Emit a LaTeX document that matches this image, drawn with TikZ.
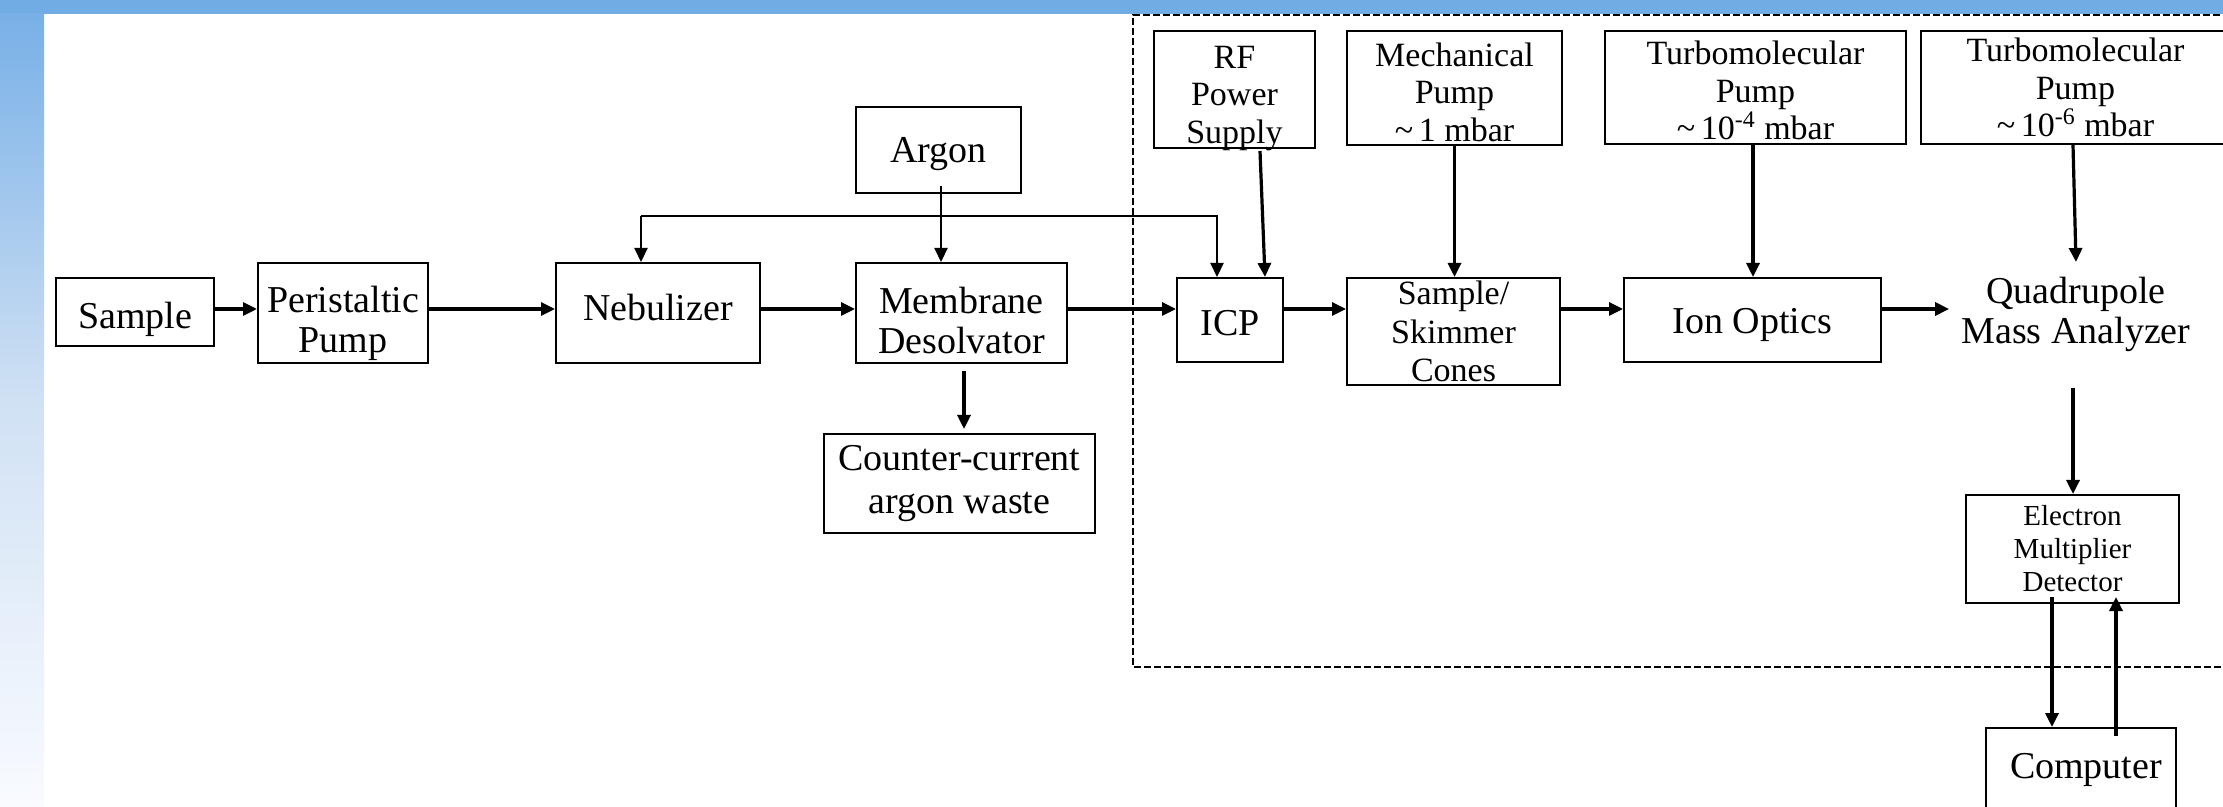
\documentclass[tikz,border=0pt]{standalone}
\usepackage{fontspec}
\setmainfont{Liberation Serif}
\usetikzlibrary{arrows.meta,calc}
\definecolor{barblue}{HTML}{72ACE4}
\definecolor{stripA}{HTML}{78B0E7}
\definecolor{stripB}{HTML}{D0E1F4}
\definecolor{stripC}{HTML}{F9FBFF}
\begin{document}
\begin{tikzpicture}[x=0.5pt,y=-0.5pt,
  box/.style={draw, line width=1pt, inner sep=0pt},
  mainf/.style={font=\fontsize{19}{20}\selectfont, align=center, inner sep=0pt},
  topf/.style={font=\fontsize{17}{18.75}\selectfont, align=center, inner sep=0pt},
  skimf/.style={font=\fontsize{17}{19.25}\selectfont, align=center, inner sep=0pt},
  wastef/.style={font=\fontsize{19}{21.5}\selectfont, align=center, inner sep=0pt},
  smallf/.style={font=\fontsize{14.5}{16.5}\selectfont, align=center, inner sep=0pt},
  arr/.style={line width=1.6pt, -{Triangle[length=7pt,width=6.5pt]}},
  thinarr/.style={line width=1.1pt, -{Triangle[length=7pt,width=6.5pt]}},
  dashedbox/.style={line width=1.1pt, dash pattern=on 3.5pt off 1.5pt}]
\clip (0,0) rectangle (2223,807);
\fill[white] (0,0) rectangle (2223,807);
\fill[barblue] (0,0) rectangle (2223,14);
\shade[top color=stripA, bottom color=stripB] (0,14) rectangle (44,400);
\shade[top color=stripB, bottom color=stripC] (0,400) rectangle (44,807);

% nodes (box with its text as a centred label)
\node[box,minimum width=79pt,minimum height=34pt,
  label={[mainf,yshift=-3.5pt]center:Sample}] (Sample) at (135,312) {};
\node[box,minimum width=85pt,minimum height=50pt,
  label={[mainf,yshift=-5pt]center:{Peristaltic\\Pump}}] (Pump) at (343,313) {};
\node[box,minimum width=102pt,minimum height=50pt,
  label={[mainf,yshift=2.5pt]center:Nebulizer}] (Neb) at (658,313) {};
\node[box,minimum width=82.5pt,minimum height=43pt,
  label={[mainf,yshift=-2pt]center:Argon}] (Argon) at (938.5,150) {};
\node[box,minimum width=105.5pt,minimum height=50pt,
  label={[mainf,yshift=-4pt]center:{Membrane\\Desolvator}}] (Mem) at (961.5,313) {};
\node[box,minimum width=135.5pt,minimum height=49.5pt,
  label={[wastef]center:{Counter-current\\argon waste}}] (Waste) at (959.5,483.5) {};
\node[box,minimum width=80.5pt,minimum height=58.5pt,
  label={[topf,yshift=-4.5pt]center:{RF\\Power\\Supply}}] (RF) at (1234.5,89.5) {};
\node[box,minimum width=107.5pt,minimum height=57pt,
  label={[topf,yshift=-2pt]center:{Mechanical\\Pump\\\textasciitilde\,1 mbar}}] (Mech) at (1454.5,88) {};
\node[box,minimum width=150.5pt,minimum height=56.5pt,
  label={[topf,yshift=-1.5pt]center:{Turbomolecular\\Pump\\\textasciitilde\,10\textsuperscript{-4} mbar}}] (T1) at (1755.5,87.5) {};
\node[box,minimum width=154.5pt,minimum height=56.5pt,
  label={[topf]center:{Turbomolecular\\Pump\\\textasciitilde\,10\textsuperscript{-6} mbar}}] (T2) at (2075.5,87.5) {};
\node[box,minimum width=53pt,minimum height=42pt,
  label={[mainf,yshift=-1.5pt]center:ICP}] (ICP) at (1230,320) {};
\node[box,minimum width=106.5pt,minimum height=53.5pt,
  label={[skimf]center:{Sample/\\Skimmer\\Cones}}] (Skim) at (1453.5,331.5) {};
\node[box,minimum width=128.5pt,minimum height=42pt,
  label={[mainf,yshift=-2.5pt]center:Ion Optics}] (Ion) at (1752.5,320) {};
\node[mainf,inner sep=6pt] (Quad) at (2076,314) {Quadrupole\\Mass Analyzer};
\node[box,minimum width=106.5pt,minimum height=54pt,
  label={[smallf]center:{Electron\\Multiplier\\Detector}}] (El) at (2072.5,549) {};
\node[box,minimum width=95pt,minimum height=46pt,
  label={[mainf,yshift=2pt,xshift=2.5pt]center:Computer}] (Comp) at (2081,774) {};

% dashed enclosure
\draw[dashedbox] (2240,15) -- (1133,15) -- (1133,667) -- (2240,667);

% main flow
\draw[arr] (Sample.east |- 0,309) -- (Pump.west |- 0,309);
\draw[arr] (Pump.east |- 0,309) -- (Neb.west |- 0,309);
\draw[arr] (Neb.east |- 0,309) -- (Mem.west |- 0,309);
\draw[arr] (Mem.east |- 0,309) -- (ICP.west |- 0,309);
\draw[arr] (ICP.east |- 0,309) -- (Skim.west |- 0,309);
\draw[arr] (Skim.east |- 0,309) -- (Ion.west |- 0,309);
\draw[arr] (Ion.east |- 0,309) -- (Quad.west |- 0,309);

% argon and loop
\coordinate (A0) at ($(Argon.south)+(2.5,-8)$);
\coordinate (L1) at (641,216);
\coordinate (L2) at (1217,216);
\draw[thinarr] (A0) -- (A0 |- Mem.north);
\draw[thinarr] (L1) -- (L1 |- Neb.north);
\draw[thinarr] (L1) -- (L2) -- (L2 |- ICP.north);

% vertical feeds
\draw[arr] ($(RF.south)+(25.5,2)$) -- ($(ICP.north)+(35,0)$);
\draw[arr] (Mech.south) -- (Mech.south |- Skim.north);
\coordinate (T1b) at ($(T1.south)+(-2.5,0)$);
\draw[arr] (T1b) -- (T1b |- Ion.north);
\coordinate (qtop) at (2076,262);
\draw[arr] ($(T2.south)+(-2.5,0)$) -- (qtop);
\coordinate (qbot) at (2073,388);
\draw[arr] (qbot) -- (qbot |- El.north);
\coordinate (Ed) at ($(El.south)+(-20.5,-7)$);
\draw[arr] (Ed) -- (Ed |- Comp.north);
\coordinate (Cu) at ($(Comp.north)+(35,9)$);
\draw[arr] (Cu) -- (Cu |- Ed);
\coordinate (Md) at ($(Mem.south)+(2.5,7)$);
\draw[arr] (Md) -- ($(Md |- Waste.north)+(0,-4)$);
\end{tikzpicture}
\end{document}
